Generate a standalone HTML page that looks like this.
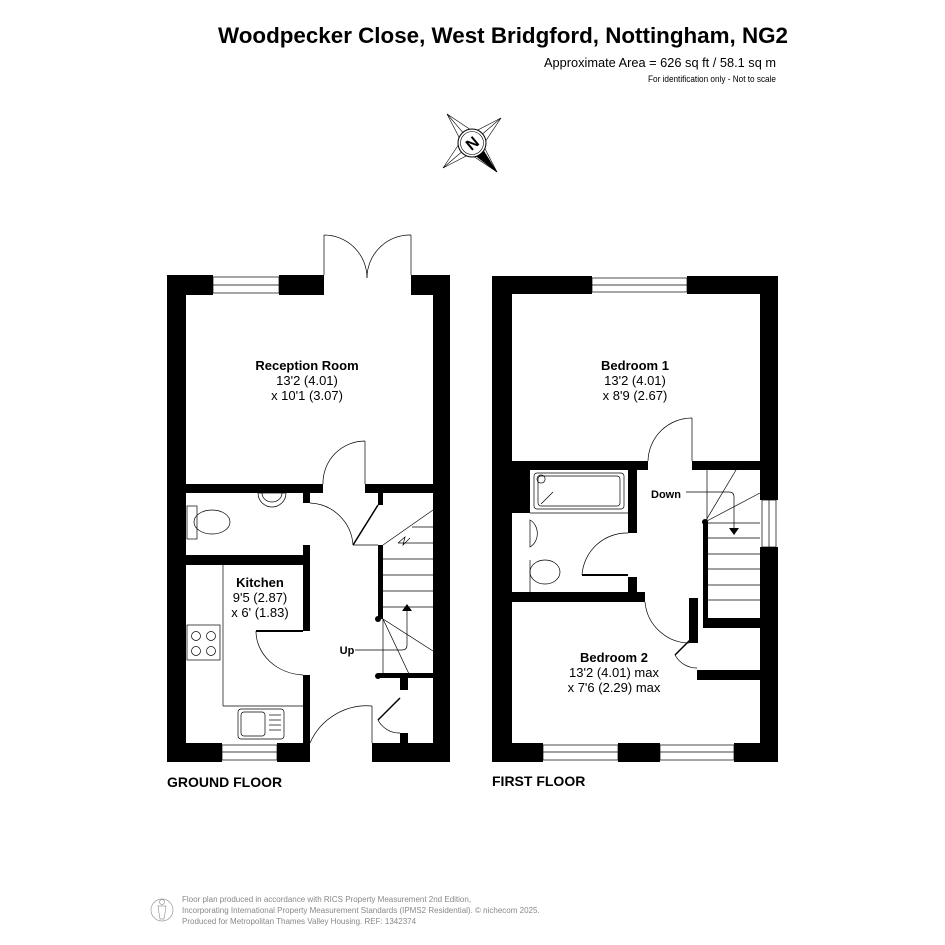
<!DOCTYPE html>
<html><head><meta charset="utf-8"><style>
html,body{margin:0;padding:0;background:#fff}
svg{display:block}
text{font-family:"Liberation Sans",Arial,sans-serif}
</style></head><body>
<svg width="945" height="945" viewBox="0 0 945 945" xmlns="http://www.w3.org/2000/svg">
<!-- Header -->
<text x="788" y="43" text-anchor="end" font-size="22" font-weight="bold" textLength="570" lengthAdjust="spacingAndGlyphs">Woodpecker Close, West Bridgford, Nottingham, NG2</text>
<text x="776" y="67" text-anchor="end" font-size="13" textLength="232" lengthAdjust="spacingAndGlyphs">Approximate Area = 626 sq ft / 58.1 sq m</text>
<text x="776" y="82" text-anchor="end" font-size="9" textLength="128" lengthAdjust="spacingAndGlyphs">For identification only - Not to scale</text>

<!-- Compass -->
<g stroke="#000" stroke-width="0.6" fill="#fff">
<polygon points="447,114 474,132 501,118 483,145 497,172 470,154 443,168 461,141"/>
<line x1="447" y1="114" x2="497" y2="172"/><line x1="501" y1="118" x2="443" y2="168"/>
<polygon points="483,150 476,156 497,172" fill="#000"/>
<circle cx="472" cy="143" r="14" stroke-width="1"/>
<circle cx="472" cy="143" r="11.5" stroke-width="0.6"/>
</g>
<text x="472" y="149" font-size="16" font-weight="bold" text-anchor="middle" transform="rotate(-40 472 143)">N</text>

<!-- GROUND FLOOR walls -->
<g fill="#000">
<rect x="167" y="275" width="19" height="487"/>
<rect x="167" y="275" width="46" height="20"/>
<rect x="279" y="275" width="45" height="20"/>
<rect x="411" y="275" width="39" height="20"/>
<rect x="433" y="275" width="17" height="487"/>
<rect x="167" y="743" width="55" height="19"/>
<rect x="277" y="743" width="33" height="19"/>
<rect x="372" y="743" width="78" height="19"/>
<rect x="186" y="484" width="137" height="9"/>
<rect x="365" y="484" width="68" height="9"/>
<rect x="303" y="493" width="7" height="10"/>
<rect x="186" y="555" width="124" height="10"/>
<rect x="303" y="545" width="7" height="10"/>
<rect x="303" y="565" width="7" height="66"/>
<rect x="303" y="675" width="7" height="68"/>
<rect x="378" y="493" width="5" height="12"/>
<rect x="378" y="545" width="5" height="74"/>
<rect x="378" y="673" width="55" height="5"/>
<rect x="400" y="678" width="8" height="12"/>
<rect x="400" y="733" width="8" height="10"/>
</g>
<g stroke="#000" stroke-width="0.7" fill="none">
<!-- windows -->
<rect x="213" y="277" width="66" height="16"/><line x1="213" y1="285" x2="279" y2="285"/>
<rect x="222" y="745" width="55" height="15"/><line x1="222" y1="752" x2="277" y2="752"/>
<!-- french doors -->
<line x1="324" y1="235" x2="324" y2="275"/><line x1="411" y1="235" x2="411" y2="275"/>
<path d="M324,235 A43,43 0 0 1 367,278"/><path d="M411,235 A43,43 0 0 0 367,278"/>
<!-- reception door -->
<line x1="365" y1="441" x2="365" y2="484"/><path d="M365,441 A42,42 0 0 0 323,484"/>
<!-- wc door -->
<path d="M310,503 A45,45 0 0 1 353,545"/><line x1="353" y1="545" x2="378" y2="505" stroke-width="1.5"/>
<line x1="353" y1="545" x2="378" y2="545"/>
<!-- WC fittings -->
<path d="M258,493 A14,14 0 0 0 286,493 Z"/><path d="M262,493 A10,9 0 0 0 282,493"/>
<rect x="187" y="506" width="10" height="33"/><ellipse cx="212" cy="522" rx="18" ry="12"/>
<!-- kitchen door -->
<path d="M256,631 A50,44 0 0 0 303,675"/><line x1="256" y1="631" x2="303" y2="631" stroke-width="2"/>
<!-- counter -->
<line x1="223" y1="565" x2="223" y2="706"/><line x1="223" y1="706" x2="303" y2="706"/>
<rect x="187" y="625" width="33" height="35"/>
<circle cx="196" cy="636" r="4.5"/><circle cx="211" cy="636" r="4.5"/><circle cx="196" cy="651" r="4.5"/><circle cx="211" cy="651" r="4.5"/>
<rect x="238" y="709" width="46" height="30" rx="3"/><rect x="241" y="712" width="24" height="24" rx="3"/>
<line x1="269" y1="715" x2="281" y2="715"/><line x1="269" y1="720" x2="281" y2="720"/><line x1="269" y1="725" x2="281" y2="725"/><line x1="269" y1="730" x2="281" y2="730"/>
<!-- stairs -->
<line x1="383" y1="575" x2="433" y2="575"/><line x1="383" y1="591" x2="433" y2="591"/><line x1="383" y1="607" x2="433" y2="607"/>
<line x1="383" y1="559" x2="433" y2="559"/><line x1="398" y1="543" x2="433" y2="543"/><line x1="412" y1="527" x2="433" y2="527"/>
<line x1="383" y1="619" x2="433" y2="651"/><line x1="383" y1="619" x2="410" y2="676"/>
<line x1="383" y1="619" x2="383" y2="676"/>
<path d="M398,543 L405,537 L403,545 L410,538"/>
<line x1="383" y1="545" x2="433" y2="510"/>
<path d="M355,650 L402,650 Q407,650 407,645 L407,610"/>
<!-- cupboard door -->
<line x1="378" y1="720" x2="400" y2="698" stroke-width="1.5"/><path d="M378,720 A24,24 0 0 0 400,733"/>
<!-- front door -->
<line x1="372" y1="706" x2="372" y2="743"/><path d="M372,706 A62,62 0 0 0 310,743"/>
</g>
<circle cx="378" cy="619" r="3"/><circle cx="378" cy="676" r="3"/>
<polygon points="402,611 412,611 407,604"/>

<text x="307" y="370" font-size="13" font-weight="bold" text-anchor="middle">Reception Room</text>
<text x="307" y="385" font-size="13" text-anchor="middle">13'2 (4.01)</text>
<text x="307" y="400" font-size="13" text-anchor="middle">x 10'1 (3.07)</text>
<text x="260" y="587" font-size="13" font-weight="bold" text-anchor="middle">Kitchen</text>
<text x="260" y="602" font-size="13" text-anchor="middle">9'5 (2.87)</text>
<text x="260" y="617" font-size="13" text-anchor="middle">x 6' (1.83)</text>
<text x="347" y="654" font-size="11" font-weight="bold" text-anchor="middle">Up</text>
<text x="167" y="787" font-size="14" font-weight="bold">GROUND FLOOR</text>

<!-- FIRST FLOOR -->
<g fill="#000">
<rect x="492" y="276" width="20" height="486"/>
<rect x="492" y="276" width="100" height="18"/>
<rect x="687" y="276" width="91" height="18"/>
<rect x="760" y="276" width="18" height="224"/>
<rect x="760" y="547" width="18" height="215"/>
<rect x="492" y="743" width="51" height="19"/>
<rect x="618" y="743" width="42" height="19"/>
<rect x="734" y="743" width="44" height="19"/>
<rect x="512" y="461" width="136" height="9"/>
<rect x="692" y="461" width="68" height="9"/>
<rect x="512" y="470" width="18" height="43"/>
<rect x="628" y="470" width="9" height="63"/>
<rect x="628" y="577" width="9" height="15"/>
<rect x="512" y="592" width="133" height="10"/>
<rect x="703" y="522" width="5" height="96"/>
<rect x="703" y="618" width="57" height="10"/>
<rect x="697" y="670" width="63" height="10"/>
<rect x="689" y="598" width="9" height="45"/>
</g>
<g stroke="#000" stroke-width="0.7" fill="none">
<rect x="592" y="278" width="95" height="14"/><line x1="592" y1="285" x2="687" y2="285"/>
<rect x="543" y="745" width="75" height="15"/><line x1="543" y1="752" x2="618" y2="752"/>
<rect x="660" y="745" width="74" height="15"/><line x1="660" y1="752" x2="734" y2="752"/>
<rect x="762" y="500" width="14" height="47"/><line x1="769" y1="500" x2="769" y2="547"/>
<!-- bed1 door -->
<line x1="692" y1="418" x2="692" y2="461"/><path d="M692,418 A44,44 0 0 0 648,461"/>
<!-- bath -->
<rect x="534" y="473" width="90" height="36" rx="3"/><rect x="538" y="476" width="82" height="30" rx="3"/>
<line x1="541" y1="504" x2="553" y2="492"/>
<path d="M541,475 a4,4 0 1 0 0.1,0"/>
<line x1="530" y1="513" x2="628" y2="513"/>
<path d="M530,520 A13,15 0 0 1 530,547 Z"/>
<ellipse cx="545" cy="572" rx="15" ry="12"/><line x1="530" y1="560" x2="530" y2="592"/>
<!-- bathroom door -->
<path d="M582,575 A45,45 0 0 1 628,533"/><line x1="582" y1="575" x2="628" y2="575" stroke-width="2"/>
<!-- bed2 door -->
<path d="M645,602 A45,45 0 0 0 689,643"/>
<line x1="675" y1="655" x2="697" y2="633" stroke-width="1.5"/>
<path d="M675,655 A25,25 0 0 0 697,668"/>
<!-- stairs -->
<line x1="708" y1="523" x2="760" y2="523"/><line x1="708" y1="538" x2="760" y2="538"/><line x1="708" y1="554" x2="760" y2="554"/>
<line x1="708" y1="569" x2="760" y2="569"/><line x1="708" y1="585" x2="760" y2="585"/><line x1="708" y1="600" x2="760" y2="600"/>
<line x1="707" y1="470" x2="707" y2="522"/>
<line x1="705" y1="522" x2="736" y2="470"/><line x1="705" y1="522" x2="760" y2="493"/>
<path d="M686,492 L729,492 Q734,492 734,497 L734,528"/>
</g>
<circle cx="705" cy="522" r="3"/>
<polygon points="729,528 739,528 734,535"/>

<text x="635" y="370" font-size="13" font-weight="bold" text-anchor="middle">Bedroom 1</text>
<text x="635" y="385" font-size="13" text-anchor="middle">13'2 (4.01)</text>
<text x="635" y="400" font-size="13" text-anchor="middle">x 8'9 (2.67)</text>
<text x="666" y="498" font-size="11" font-weight="bold" text-anchor="middle">Down</text>
<text x="614" y="662" font-size="13" font-weight="bold" text-anchor="middle">Bedroom 2</text>
<text x="614" y="677" font-size="13" text-anchor="middle">13'2 (4.01) max</text>
<text x="614" y="692" font-size="13" text-anchor="middle">x 7'6 (2.29) max</text>
<text x="492" y="786" font-size="14" font-weight="bold">FIRST FLOOR</text>

<!-- Footer -->
<g stroke="#999" fill="none" stroke-width="0.7">
<circle cx="162" cy="910" r="11"/><circle cx="162" cy="902" r="2.5"/>
<path d="M158,906 L166,906 L165,913 L164,919 L160,919 L159,913 Z"/>
</g>
<g fill="#888" font-size="8">
<text x="182" y="902">Floor plan produced in accordance with RICS Property Measurement 2nd Edition,</text>
<text x="182" y="913">Incorporating International Property Measurement Standards (IPMS2 Residential).   © nichecom 2025.</text>
<text x="182" y="924">Produced for Metropolitan Thames Valley Housing.   REF: 1342374</text>
</g>
</svg>
</body></html>
